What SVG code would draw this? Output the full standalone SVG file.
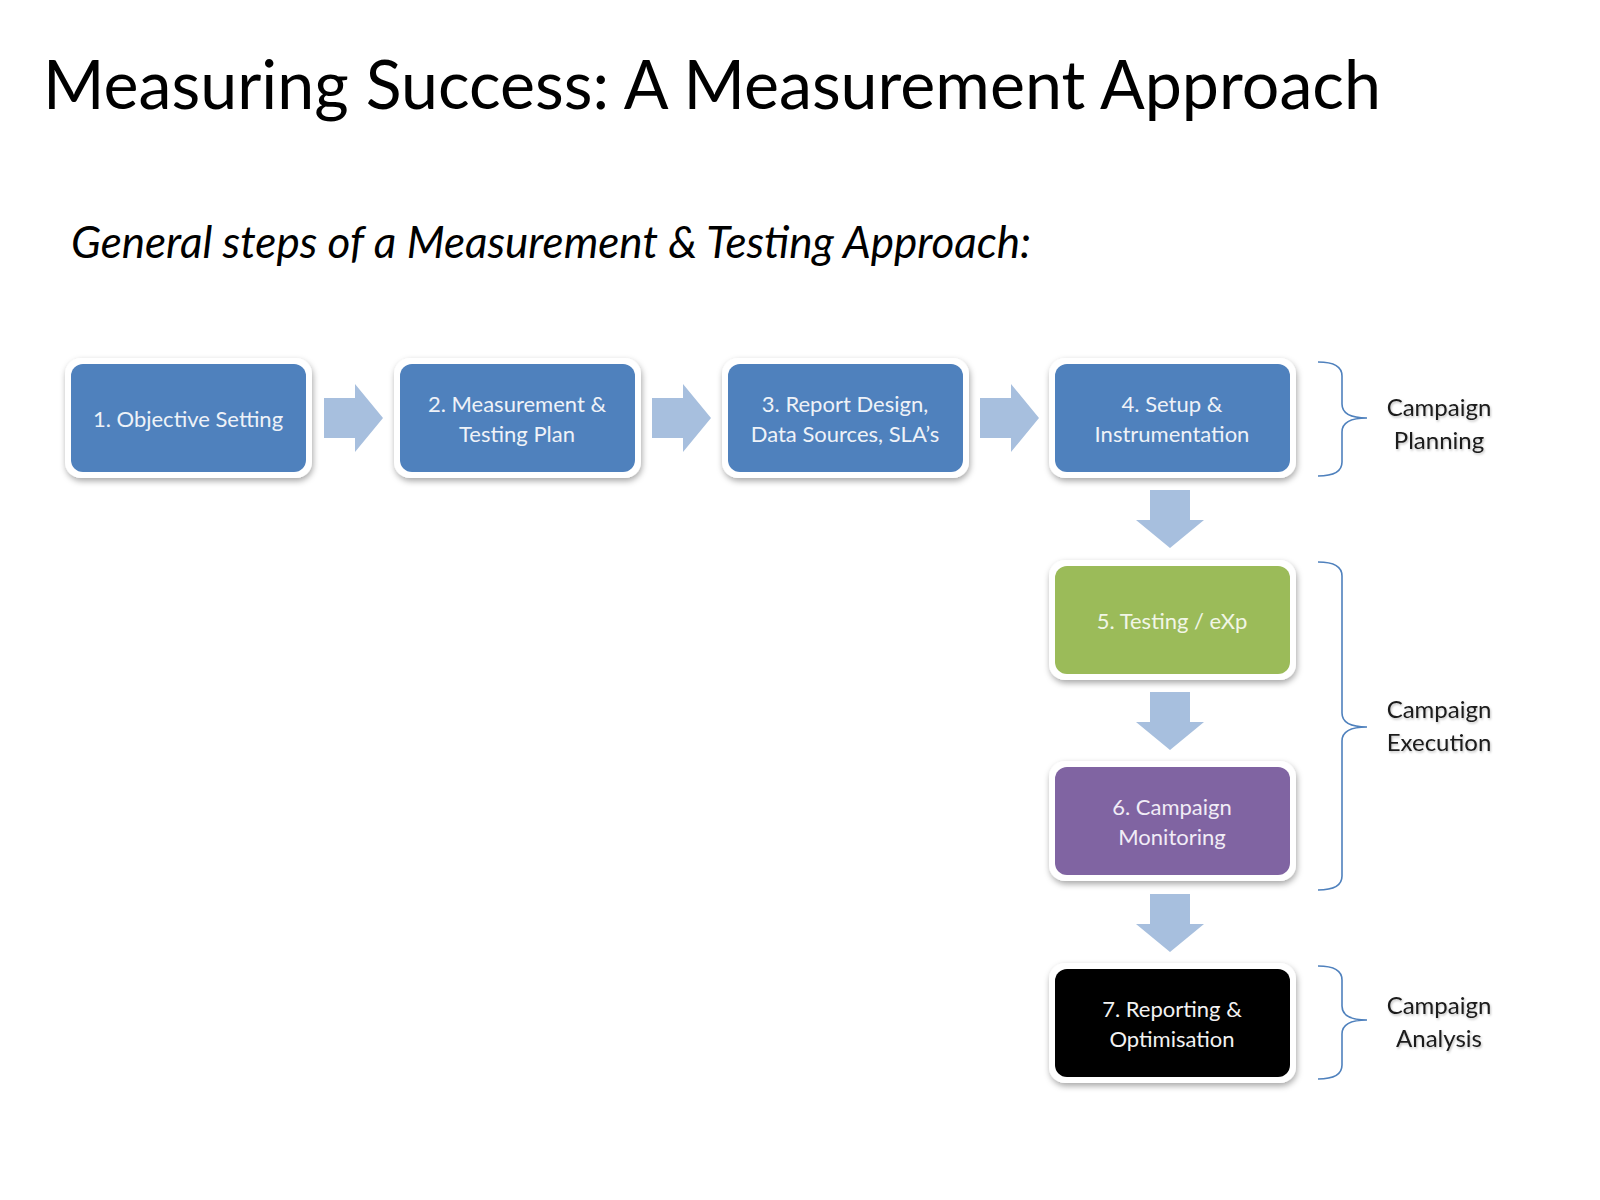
<svg xmlns="http://www.w3.org/2000/svg" width="1600" height="1200" viewBox="0 0 1600 1200">
<defs>
<filter id="sh" x="-10%" y="-10%" width="120%" height="130%">
<feDropShadow dx="1" dy="3" stdDeviation="3" flood-color="#000" flood-opacity="0.35"/>
</filter>
<filter id="ts" x="-5%" y="-20%" width="110%" height="140%">
<feDropShadow dx="1" dy="1.5" stdDeviation="1" flood-color="#000" flood-opacity="0.25"/>
</filter>
</defs>
<style>
.frame{fill:#fff;filter:url(#sh)}
.blue{fill:#4f81bd}
.green{fill:#9bbb59}
.purple{fill:#8064a2}
.black{fill:#000}
.bt{font-family:Lato,"Open Sans",sans-serif;font-size:22px;fill:#eef2f8;text-anchor:middle;dominant-baseline:central}
.lab{font-family:Lato,"Open Sans",sans-serif;font-size:24px;fill:#1a1a1a;text-anchor:middle;dominant-baseline:central;filter:url(#ts)}
.arr{fill:#a7bfde}
.brace{fill:none;stroke:#4f81bd;stroke-width:1.6}
</style>
<rect width="1600" height="1200" fill="#fff"/>
<text x="43" y="109" font-family="Lato,'Open Sans',sans-serif" font-size="68" fill="#000" textLength="1338" lengthAdjust="spacingAndGlyphs">Measuring Success: A Measurement Approach</text>
<text x="71" y="258" font-family="Lato,'Open Sans',sans-serif" font-size="44" font-style="italic" fill="#000">General steps of a Measurement &amp; Testing Approach:</text>

<g id="connectors">
<path class="arr" d="M324,398 H355 V384 L383,418 L355,452 V438 H324 Z"/>
<path class="arr" d="M652,398 H683 V384 L711,418 L683,452 V438 H652 Z"/>
<path class="arr" d="M980,398 H1011 V384 L1039,418 L1011,452 V438 H980 Z"/>
<path class="arr" d="M1150,490 H1190 V520 H1204 L1170,548 L1136,520 H1150 Z"/>
<path class="arr" d="M1150,692 H1190 V722 H1204 L1170,750 L1136,722 H1150 Z"/>
<path class="arr" d="M1150,894 H1190 V924 H1204 L1170,952 L1136,924 H1150 Z"/>
</g>

<g id="n1">
<rect class="frame" x="65" y="358" width="247" height="120" rx="16"/>
<rect class="blue" x="71" y="364" width="235" height="108" rx="12"/>
<text class="bt" x="188" y="418">1. Objective Setting</text>
</g>
<g id="n2">
<rect class="frame" x="394" y="358" width="247" height="120" rx="16"/>
<rect class="blue" x="400" y="364" width="235" height="108" rx="12"/>
<text class="bt" x="517" y="403">2. Measurement &amp;</text>
<text class="bt" x="517" y="433">Testing Plan</text>
</g>
<g id="n3">
<rect class="frame" x="722" y="358" width="247" height="120" rx="16"/>
<rect class="blue" x="728" y="364" width="235" height="108" rx="12"/>
<text class="bt" x="845" y="403">3. Report Design,</text>
<text class="bt" x="845" y="433">Data Sources, SLA’s</text>
</g>
<g id="n4">
<rect class="frame" x="1049" y="358" width="247" height="120" rx="16"/>
<rect class="blue" x="1055" y="364" width="235" height="108" rx="12"/>
<text class="bt" x="1172" y="403">4. Setup &amp;</text>
<text class="bt" x="1172" y="433">Instrumentation</text>
</g>
<g id="n5">
<rect class="frame" x="1049" y="560" width="247" height="120" rx="16"/>
<rect class="green" x="1055" y="566" width="235" height="108" rx="12"/>
<text class="bt" x="1172" y="620" style="fill:#f1f6e6">5. Testing / eXp</text>
</g>
<g id="n6">
<rect class="frame" x="1049" y="761" width="247" height="120" rx="16"/>
<rect class="purple" x="1055" y="767" width="235" height="108" rx="12"/>
<text class="bt" x="1172" y="806" style="fill:#f1ecf6">6. Campaign</text>
<text class="bt" x="1172" y="836" style="fill:#f1ecf6">Monitoring</text>
</g>
<g id="n7">
<rect class="frame" x="1049" y="963" width="247" height="120" rx="16"/>
<rect class="black" x="1055" y="969" width="235" height="108" rx="12"/>
<text class="bt" x="1172" y="1008" style="fill:#f2f2f2">7. Reporting &amp;</text>
<text class="bt" x="1172" y="1038" style="fill:#f2f2f2">Optimisation</text>
</g>

<g id="planning">
<path class="brace" d="M1318,362 Q1342,362 1342,376 V404 Q1342,418 1367,418 Q1342,418 1342,432 V462 Q1342,476 1318,476"/>
<text class="lab" x="1439" y="406">Campaign</text>
<text class="lab" x="1439" y="439">Planning</text>
</g>
<g id="execution">
<path class="brace" d="M1318,562 Q1342,562 1342,576 V713 Q1342,727 1367,727 Q1342,727 1342,741 V876 Q1342,890 1318,890"/>
<text class="lab" x="1439" y="708">Campaign</text>
<text class="lab" x="1439" y="741">Execution</text>
</g>
<g id="analysis">
<path class="brace" d="M1318,966 Q1342,966 1342,980 V1006 Q1342,1020 1367,1020 Q1342,1020 1342,1034 V1065 Q1342,1079 1318,1079"/>
<text class="lab" x="1439" y="1004">Campaign</text>
<text class="lab" x="1439" y="1037">Analysis</text>
</g>
</svg>
